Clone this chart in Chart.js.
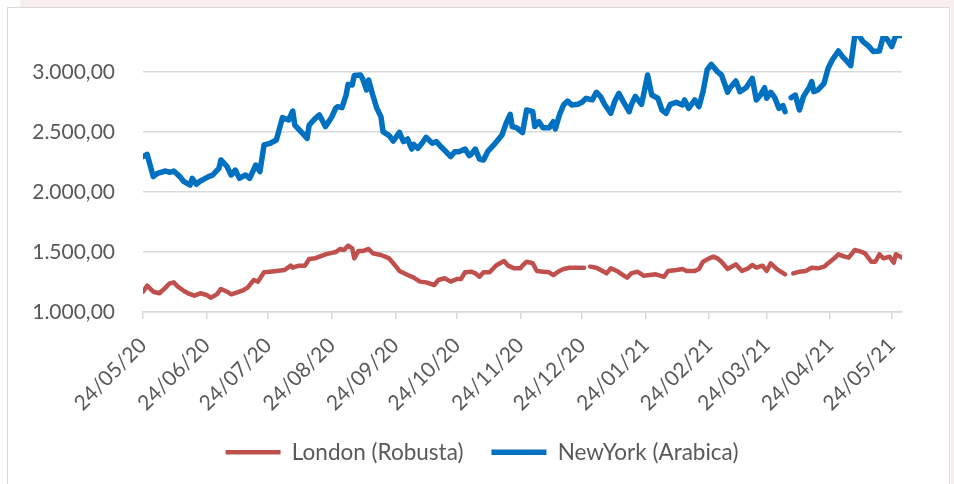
<!DOCTYPE html>
<html>
<head>
<meta charset="utf-8">
<title>London vs NewYork coffee prices</title>
<script src="https://cdn.jsdelivr.net/npm/chart.js@4/dist/chart.umd.min.js"></script>
<style>
  body { margin: 0; background: #fff; width: 954px; height: 484px; overflow: hidden; position: relative; }
  .band-top { position: absolute; left: 20px; top: 0; right: 0; height: 7px; background: #f8eeee; }
  .band-right { position: absolute; left: 951px; top: 0; width: 3px; height: 484px; background: #f8eeee; }
  #frame { position: absolute; left: 7px; top: 7px; width: 941px; height: 480px; border: 1px solid #d9d9d9; background: #fff; }
  canvas { display: block; }
</style>
</head>
<body>
<div class="band-top"></div>
<div class="band-right"></div>
<div id="frame"><canvas id="priceChart" width="941" height="476"></canvas></div>
<script>
// --- Data (days counted from 24/05/2020, null = no quote) ---
const START = Date.UTC(2020, 4, 24);

const tickLabels = [
  "24/05/20", "24/06/20", "24/07/20", "24/08/20", "24/09/20", "24/10/20", "24/11/20",
  "24/12/20", "24/01/21", "24/02/21", "24/03/21", "24/04/21", "24/05/21",
];
const priceTicks = [1000, 1500, 2000, 2500, 3000];

const londonDays = [
  0, 2, 5, 8, 11, 13, 15, 17, 20, 22, 25, 28, 31, 33, 36, 38, 41, 43, 46, 49,
  51, 54, 56, 59, 62, 65, 69, 72, 73, 76, 79, 81, 84, 86, 89, 91, 94, 96, 98, 100,
  102, 103, 105, 107, 110, 112, 116, 118, 120, 123, 125, 129, 132, 135, 138, 142, 144, 147, 150, 153,
  155, 157, 160, 162, 164, 166, 169, 172, 174, 176, 178, 181, 184, 185, 187, 190, 192, 195, 198, 200,
  203, 205, 208, 212, 215, 216, 218, 221, 224, 226, 228, 231, 234, 236, 238, 241, 244, 247, 250, 252,
  254, 256, 260, 263, 265, 269, 271, 273, 276, 278, 280, 282, 285, 289, 292, 295, 297, 299, 302, 304,
  306, 309, 313, 314, 317, 320, 323, 326, 329, 332, 334, 337, 339, 342, 344, 347, 350, 352, 355, 357,
  359, 361, 364, 366, 367, 370,
];
const londonPrices = [
  1169, 1219, 1169, 1156, 1203, 1239, 1247, 1211, 1175, 1156, 1136, 1156, 1142, 1119, 1147, 1192, 1169, 1147, 1164, 1183,
  1203, 1267, 1253, 1331, 1336, 1342, 1350, 1386, 1369, 1386, 1386, 1442, 1447, 1461, 1481, 1489, 1500, 1525, 1517, 1553,
  1530, 1447, 1508, 1508, 1525, 1489, 1475, 1461, 1447, 1386, 1342, 1308, 1286, 1253, 1247, 1225, 1267, 1281, 1253, 1275,
  1275, 1331, 1336, 1322, 1294, 1331, 1331, 1386, 1406, 1425, 1386, 1364, 1364, 1386, 1419, 1406, 1342, 1336, 1331, 1308,
  1342, 1358, 1369, 1369, 1369, null, 1378, 1369, 1342, 1322, 1364, 1342, 1308, 1286, 1322, 1336, 1303, 1308, 1314, 1303,
  1294, 1342, 1350, 1358, 1342, 1342, 1358, 1419, 1447, 1461, 1447, 1419, 1358, 1397, 1342, 1364, 1392, 1369, 1386, 1342,
  1406, 1358, 1314, null, 1322, 1336, 1342, 1369, 1364, 1378, 1406, 1447, 1481, 1461, 1453, 1517, 1503, 1489, 1419, 1419,
  1481, 1447, 1461, 1411, 1481, 1453,
];

const newYorkDays = [
  0, 2, 5, 7, 11, 13, 15, 18, 20, 23, 24, 26, 28, 32, 34, 37, 38, 41, 43, 45,
  47, 50, 52, 55, 57, 59, 62, 65, 68, 71, 73, 74, 77, 80, 81, 84, 86, 89, 92, 94,
  95, 97, 99, 100, 102, 103, 106, 107, 109, 110, 112, 114, 116, 117, 120, 122, 125, 127, 129, 131,
  132, 134, 136, 138, 141, 143, 146, 148, 150, 152, 154, 157, 159, 160, 162, 164, 166, 168, 171, 173,
  175, 177, 179, 180, 182, 185, 187, 190, 191, 193, 195, 198, 200, 201, 203, 205, 207, 209, 212, 214,
  216, 219, 221, 223, 225, 228, 230, 232, 234, 237, 238, 240, 243, 244, 246, 248, 251, 253, 255, 257,
  260, 263, 264, 266, 269, 271, 273, 275, 277, 280, 282, 285, 286, 289, 291, 294, 297, 299, 301, 303,
  304, 306, 308, 310, 312, 313, 314, 316, 318, 320, 322, 325, 326, 327, 329, 332, 334, 336, 339, 341,
  343, 345, 347, 349, 351, 354, 356, 359, 361, 363, 365, 367, 370,
];
const newYorkPrices = [
  2294, 2314, 2128, 2156, 2175, 2164, 2175, 2128, 2086, 2058, 2114, 2064, 2092, 2128, 2142, 2197, 2267, 2211, 2142, 2183,
  2114, 2142, 2114, 2225, 2170, 2392, 2406, 2433, 2620, 2600, 2675, 2558, 2503, 2447, 2558, 2614, 2642, 2545, 2625, 2700,
  2711, 2703, 2808, 2897, 2892, 2970, 2975, 2947, 2850, 2933, 2808, 2697, 2628, 2503, 2470, 2425, 2497, 2420, 2442, 2358,
  2397, 2364, 2406, 2456, 2406, 2420, 2364, 2331, 2295, 2336, 2336, 2358, 2303, 2314, 2358, 2275, 2267, 2336, 2392, 2433,
  2475, 2572, 2647, 2545, 2536, 2495, 2683, 2670, 2545, 2586, 2536, 2536, 2586, 2525, 2642, 2725, 2758, 2725, 2731, 2747,
  2781, 2767, 2831, 2797, 2731, 2656, 2758, 2822, 2758, 2670, 2725, 2797, 2731, 2808, 2975, 2808, 2781, 2683, 2656, 2731,
  2747, 2725, 2767, 2697, 2767, 2711, 2836, 3017, 3064, 3003, 2975, 2831, 2864, 2925, 2836, 2869, 2947, 2767, 2808, 2869,
  2781, 2831, 2786, 2697, 2720, 2670, null, 2786, 2808, 2683, 2797, 2878, 2920, 2836, 2850, 2906, 3031, 3100, 3175, 3128,
  3092, 3053, 3305, 3305, 3253, 3211, 3170, 3175, 3305, 3267, 3211, 3305, 3305,
];

const RED = "#c0504d";
const BLUE = "#0070c0";
const GRID = "#d9d9d9";
const TEXT = "#595959";
const FONT = "Lato, 'Open Sans', sans-serif";

// --- Helpers ---
const labelToDay = (label) => {
  const [d, m, y] = label.split("/").map(Number);
  return Math.round((Date.UTC(2000 + y, m - 1, d) - START) / 86400000);
};
const tickDays = tickLabels.map(labelToDay);

const formatPrice = (v) => {
  const [whole, dec] = v.toFixed(2).split(".");
  return whole.replace(/\B(?=(\d{3})+(?!\d))/g, ".") + "," + dec;
};

const toPoints = (days, prices) => days.map((d, i) => ({ x: d, y: prices[i] }));

// fixed box sizes so the plot area lands where the original one is
const fixWidth = (w) => (scale) => {
  scale.width = w;
  scale.paddingTop = 0;
  scale.paddingBottom = 0;
};

// --- Chart ---
new Chart(document.getElementById("priceChart"), {
  type: "line",
  data: {
    datasets: [
      {
        label: "London (Robusta)",
        data: toPoints(londonDays, londonPrices),
        borderColor: RED,
        backgroundColor: RED,
        borderWidth: 4.5,
      },
      {
        label: "NewYork (Arabica)",
        data: toPoints(newYorkDays, newYorkPrices),
        borderColor: BLUE,
        backgroundColor: BLUE,
        borderWidth: 5.5,
      },
    ],
  },
  options: {
    responsive: false,
    animation: false,
    spanGaps: false,
    elements: {
      point: { radius: 0 },
      line: { tension: 0, borderCapStyle: "round", borderJoinStyle: "round" },
    },
    layout: { padding: { top: 28, right: 0, left: 7, bottom: 10.5 } },
    plugins: {
      tooltip: { enabled: false },
      legend: {
        position: "bottom",
        labels: {
          usePointStyle: true,
          pointStyle: "line",
          pointStyleWidth: 55,
          padding: 28,
          color: TEXT,
          font: { family: FONT, size: 22.5 },
        },
      },
    },
    scales: {
      x: {
        type: "linear",
        min: 0,
        max: 370,
        afterBuildTicks: (scale) => {
          scale.ticks = tickDays.map((v) => ({ value: v }));
        },
        afterFit: (scale) => {
          scale.height = 101;
        },
        ticks: {
          autoSkip: false,
          minRotation: 45,
          maxRotation: 45,
          padding: 14,
          color: TEXT,
          font: { family: FONT, size: 21 },
          callback: (value) => tickLabels[tickDays.indexOf(value)] || "",
        },
        grid: { drawOnChartArea: false, tickLength: 7, color: GRID, lineWidth: 1.5 },
        border: { color: GRID, width: 1.5 },
      },
      y: {
        min: 1000,
        max: 3300,
        afterBuildTicks: (scale) => {
          scale.ticks = priceTicks.map((v) => ({ value: v }));
        },
        afterFit: fixWidth(128),
        ticks: {
          padding: 28,
          color: TEXT,
          font: { family: FONT, size: 21 },
          callback: (value) => formatPrice(value),
        },
        grid: { drawTicks: false, color: GRID, lineWidth: 1.5 },
        border: { display: false },
      },
      // empty right-hand margin box, keeps the legend centred like the original
      yMargin: {
        position: "right",
        afterFit: fixWidth(47),
        ticks: { display: false },
        grid: { display: false },
        border: { display: false },
      },
    },
  },
});
</script>
</body>
</html>
